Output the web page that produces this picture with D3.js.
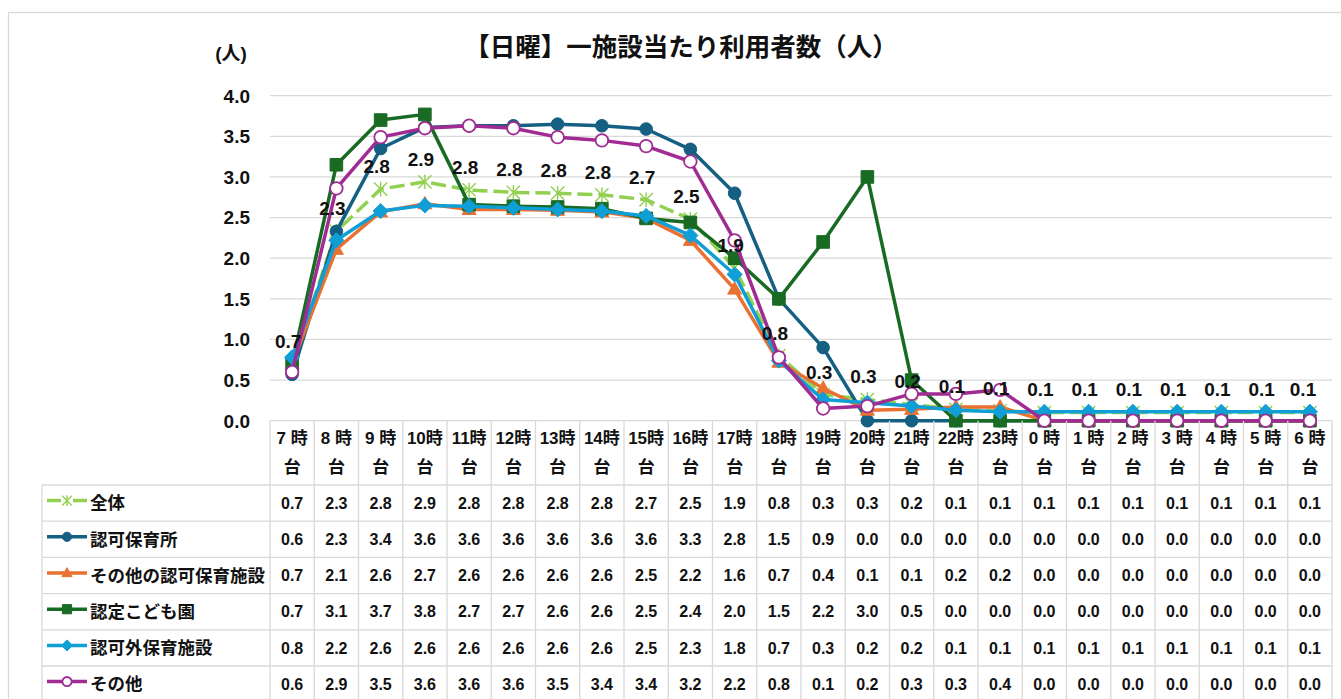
<!DOCTYPE html>
<html>
<head>
<meta charset="utf-8">
<script src="https://cdn.jsdelivr.net/npm/d3@7/dist/d3.min.js"></script>
<style>
  body { margin: 0; background: #fff; }
  svg { display: block; font-family: "Liberation Sans", Arial, "Noto Sans CJK JP", sans-serif; font-weight: bold; }
</style>
</head>
<body>
<div id="js-canvas"></div>
<script>
"use strict";

const width = 1341;
const height = 699;

// Hour columns (two lines in the table header).
const hours = ["7 時", "8 時", "9 時", "10時", "11時", "12時", "13時", "14時",
  "15時", "16時", "17時", "18時", "19時", "20時", "21時", "22時", "23時",
  "0 時", "1 時", "2 時", "3 時", "4 時", "5 時", "6 時"];

const seriesNames = ["全体", "認可保育所", "その他の認可保育施設", "認定こども園",
  "認可外保育施設", "その他"];

// Plotted values.
const zentai = [0.70, 2.33, 2.85, 2.94, 2.84, 2.81, 2.80, 2.78, 2.72, 2.48, 1.88, 0.80,
  0.32, 0.26, 0.20, 0.14, 0.12, 0.10, 0.10, 0.10, 0.10, 0.10, 0.10, 0.10];
const ninka = [0.57, 2.33, 3.35, 3.61, 3.63, 3.63, 3.65, 3.63, 3.59, 3.34, 2.80, 1.50,
  0.90, 0, 0, 0, 0, 0, 0, 0, 0, 0, 0, 0];
const sonotaNinka = [0.70, 2.11, 2.57, 2.67, 2.60, 2.60, 2.59, 2.57, 2.49, 2.22, 1.62, 0.72,
  0.40, 0.13, 0.14, 0.17, 0.17, 0, 0, 0, 0, 0, 0, 0];
const kodomoen = [0.70, 3.15, 3.70, 3.77, 2.66, 2.64, 2.63, 2.61, 2.49, 2.44, 2.00, 1.50,
  2.20, 3.00, 0.50, 0, 0, 0, 0, 0, 0, 0, 0, 0];
const ninkagai = [0.78, 2.22, 2.58, 2.65, 2.64, 2.62, 2.60, 2.58, 2.52, 2.28, 1.80, 0.74,
  0.26, 0.22, 0.18, 0.13, 0.11, 0.11, 0.11, 0.11, 0.11, 0.11, 0.11, 0.11];
const sonota = [0.60, 2.86, 3.49, 3.60, 3.63, 3.60, 3.49, 3.45, 3.38, 3.19, 2.22, 0.78,
  0.15, 0.18, 0.33, 0.33, 0.38, 0, 0, 0, 0, 0, 0, 0];

// Values printed in the data table.
const zentaiTable = ["0.7", "2.3", "2.8", "2.9", "2.8", "2.8", "2.8", "2.8", "2.7", "2.5", "1.9", "0.8",
  "0.3", "0.3", "0.2", "0.1", "0.1", "0.1", "0.1", "0.1", "0.1", "0.1", "0.1", "0.1"];
const ninkaTable = ["0.6", "2.3", "3.4", "3.6", "3.6", "3.6", "3.6", "3.6", "3.6", "3.3", "2.8", "1.5",
  "0.9", "0.0", "0.0", "0.0", "0.0", "0.0", "0.0", "0.0", "0.0", "0.0", "0.0", "0.0"];
const sonotaNinkaTable = ["0.7", "2.1", "2.6", "2.7", "2.6", "2.6", "2.6", "2.6", "2.5", "2.2", "1.6", "0.7",
  "0.4", "0.1", "0.1", "0.2", "0.2", "0.0", "0.0", "0.0", "0.0", "0.0", "0.0", "0.0"];
const kodomoenTable = ["0.7", "3.1", "3.7", "3.8", "2.7", "2.7", "2.6", "2.6", "2.5", "2.4", "2.0", "1.5",
  "2.2", "3.0", "0.5", "0.0", "0.0", "0.0", "0.0", "0.0", "0.0", "0.0", "0.0", "0.0"];
const ninkagaiTable = ["0.8", "2.2", "2.6", "2.6", "2.6", "2.6", "2.6", "2.6", "2.5", "2.3", "1.8", "0.7",
  "0.3", "0.2", "0.2", "0.1", "0.1", "0.1", "0.1", "0.1", "0.1", "0.1", "0.1", "0.1"];
const sonotaTable = ["0.6", "2.9", "3.5", "3.6", "3.6", "3.6", "3.5", "3.4", "3.4", "3.2", "2.2", "0.8",
  "0.1", "0.2", "0.3", "0.3", "0.4", "0.0", "0.0", "0.0", "0.0", "0.0", "0.0", "0.0"];

const yTicks = [0, 0.5, 1, 1.5, 2, 2.5, 3, 3.5, 4];

const series = [
  { name: seriesNames[0], values: zentai, table: zentaiTable, color: "#92D050", marker: "star", dash: "15,6" },
  { name: seriesNames[1], values: ninka, table: ninkaTable, color: "#156082", marker: "circle" },
  { name: seriesNames[2], values: sonotaNinka, table: sonotaNinkaTable, color: "#E97132", marker: "triangle" },
  { name: seriesNames[3], values: kodomoen, table: kodomoenTable, color: "#196B24", marker: "square" },
  { name: seriesNames[4], values: ninkagai, table: ninkagaiTable, color: "#0F9ED5", marker: "diamond" },
  { name: seriesNames[5], values: sonota, table: sonotaTable, color: "#A02B93", marker: "open" }
];

const plotLeft = 270;
const plotRight = 1332;
const plotTop = 95.7;
const plotBottom = 420.7;
const rowTop = 485;
const rowHeight = 36.2;
const legendLeft = 42;
const gridColor = "#d9d9d9";

const svg = d3.select("#js-canvas")
  .append("svg")
    .attr("width", width)
    .attr("height", height);

svg.append("rect")
  .attr("width", width).attr("height", height).attr("fill", "#fff");

// outer chart frame
svg.append("rect")
  .attr("x", 8.5).attr("y", 12.5)
  .attr("width", width + 20).attr("height", height + 20)
  .attr("fill", "none").attr("stroke", gridColor).attr("stroke-width", 1.3);

const x = d3.scaleBand()
  .domain(hours)
  .range([plotLeft, plotRight]);

const y = d3.scaleLinear()
  .domain([0, 4])
  .range([plotBottom, plotTop]);

function cx(i) { return x(hours[i]) + x.bandwidth() / 2; }

// gridlines
svg.append("g")
  .selectAll("line")
  .data(yTicks)
  .enter()
  .append("line")
    .attr("x1", plotLeft).attr("x2", plotRight)
    .attr("y1", function (d) { return y(d); })
    .attr("y2", function (d) { return y(d); })
    .attr("stroke", gridColor).attr("stroke-width", 1.3);

// y axis labels
svg.append("g")
  .selectAll("text")
  .data(yTicks)
  .enter()
  .append("text")
    .attr("x", 250)
    .attr("y", function (d) { return y(d); })
    .attr("dy", "0.36em")
    .attr("text-anchor", "end")
    .attr("font-size", 19)
    .attr("fill", "#111")
    .text(function (d) { return d.toFixed(1); });

svg.append("text")
  .attr("x", 231).attr("y", 53).attr("dy", "0.36em")
  .attr("text-anchor", "middle").attr("font-size", 19).attr("fill", "#111")
  .text("(人)");

svg.append("text")
  .attr("x", 681).attr("y", 47).attr("dy", "0.36em")
  .attr("text-anchor", "middle")
  .attr("font-family", "'Noto Sans CJK JP', sans-serif")
  .attr("font-size", 25.5).attr("fill", "#111")
  .text("【日曜】一施設当たり利用者数（人）");

function markerPath(type, s) {
  switch (type) {
  case "star":
    return "M" + -s + "," + -s + "L" + s + "," + s + "M" + -s + "," + s + "L" + s + "," + -s +
      "M0," + -s * 1.1 + "L0," + s * 1.1;
  case "triangle":
    return "M0," + -s * 1.15 + "L" + s * 1.1 + "," + s * 0.8 + "L" + -s * 1.1 + "," + s * 0.8 + "Z";
  case "square":
    return "M" + -s + "," + -s + "H" + s + "V" + s + "H" + -s + "Z";
  case "diamond":
    return "M0," + -s * 1.2 + "L" + s * 1.2 + ",0L0," + s * 1.2 + "L" + -s * 1.2 + ",0Z";
  default:
    return d3.symbol().type(d3.symbolCircle).size(Math.PI * s * s)();
  }
}

function drawMarker(g, s, type, color) {
  const p = g.append("path").attr("d", markerPath(type, type === "star" ? s * 1.05 : s));
  if (type === "star")
    p.attr("fill", "none").attr("stroke", color).attr("stroke-width", 1.4);
  else if (type === "open")
    p.attr("fill", "#fff").attr("stroke", color).attr("stroke-width", 1.8);
  else
    p.attr("fill", color).attr("stroke", color).attr("stroke-width", 1);
  return p;
}

const line = d3.line()
  .x(function (d, i) { return cx(i); })
  .y(function (d) { return y(d); });

// series lines and markers, first series at the bottom
const plot = svg.append("g");
series.forEach(function (s) {
  const g = plot.append("g");
  g.append("path")
    .attr("d", line(s.values))
    .attr("fill", "none")
    .attr("stroke", s.color)
    .attr("stroke-width", 3.5)
    .attr("stroke-linejoin", "round")
    .attr("stroke-dasharray", s.dash || null);
  s.values.forEach(function (v, i) {
    const m = g.append("g").attr("transform", "translate(" + cx(i) + "," + y(v) + ")");
    drawMarker(m, 6.3, s.marker, s.color);
  });
});

// data labels of 全体
svg.append("g")
  .selectAll("text")
  .data(zentai)
  .enter()
  .append("text")
    .attr("x", function (d, i) { return Math.min(cx(i) - 4, 1303); })
    .attr("y", function (d) { return y(d) - 23; })
    .attr("dy", "0.36em")
    .attr("text-anchor", "middle")
    .attr("font-size", 19)
    .attr("fill", "#111")
    .text(function (d, i) { return zentaiTable[i]; });

// data table
const table = svg.append("g");
const tableBottom = rowTop + rowHeight * series.length;

table.selectAll("line.v")
  .data(d3.range(hours.length + 1))
  .enter()
  .append("line")
    .attr("x1", function (i) { return plotLeft + i * x.bandwidth(); })
    .attr("x2", function (i) { return plotLeft + i * x.bandwidth(); })
    .attr("y1", plotBottom).attr("y2", tableBottom)
    .attr("stroke", gridColor).attr("stroke-width", 1.3);

table.append("line")
  .attr("x1", legendLeft).attr("x2", legendLeft)
  .attr("y1", rowTop).attr("y2", tableBottom)
  .attr("stroke", gridColor).attr("stroke-width", 1.3);

table.selectAll("line.h")
  .data(d3.range(series.length + 1))
  .enter()
  .append("line")
    .attr("x1", legendLeft).attr("x2", plotRight)
    .attr("y1", function (i) { return rowTop + i * rowHeight; })
    .attr("y2", function (i) { return rowTop + i * rowHeight; })
    .attr("stroke", gridColor).attr("stroke-width", 1.3);

// header cells: hour on the first line, 台 on the second
hours.forEach(function (h, i) {
  table.append("text")
    .attr("x", cx(i)).attr("y", 438).attr("dy", "0.36em")
    .attr("text-anchor", "middle").attr("font-size", 17).attr("fill", "#111")
    .text(h);
  table.append("text")
    .attr("x", cx(i)).attr("y", 467).attr("dy", "0.36em")
    .attr("text-anchor", "middle").attr("font-size", 17).attr("fill", "#111")
    .text("台");
});

series.forEach(function (s, r) {
  const rowY = rowTop + rowHeight * (r + 0.5);
  const key = table.append("g").attr("transform", "translate(0," + (rowY - 2.5) + ")");
  key.append("line")
    .attr("x1", 47).attr("x2", 87)
    .attr("stroke", s.color).attr("stroke-width", 3.5)
    .attr("stroke-dasharray", s.dash ? "14,12,14" : null);
  const km = key.append("g").attr("transform", "translate(67,0)");
  drawMarker(km, 4.6, s.marker, s.color);

  table.append("text")
    .attr("x", 90).attr("y", rowY).attr("dy", "0.36em")
    .attr("font-size", 17.5).attr("fill", "#111")
    .text(s.name);

  table.append("g")
    .selectAll("text")
    .data(s.table)
    .enter()
    .append("text")
      .attr("x", function (d, i) { return cx(i); })
      .attr("y", rowY).attr("dy", "0.36em")
      .attr("text-anchor", "middle")
      .attr("font-size", 16)
      .attr("fill", "#111")
      .text(function (d) { return d; });
});
</script>
</body>
</html>
